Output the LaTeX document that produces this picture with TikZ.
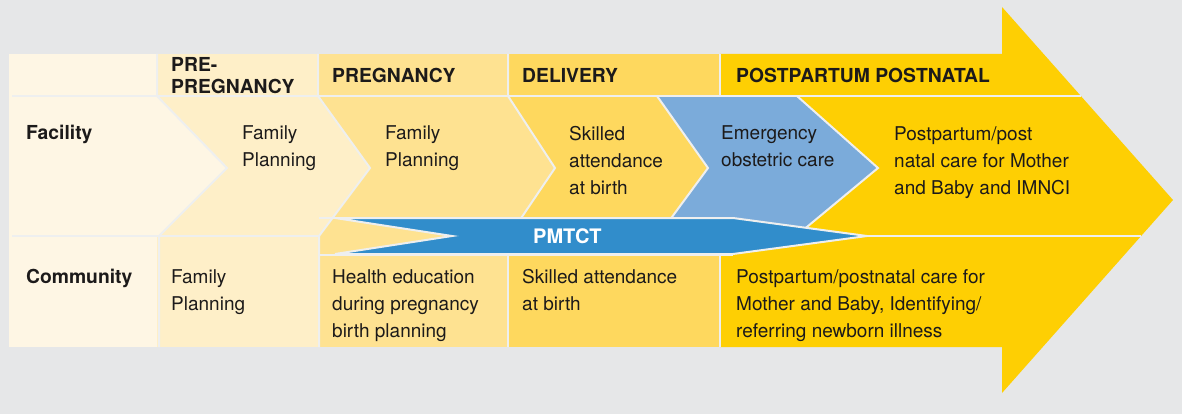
\documentclass[tikz,border=0pt]{standalone}
\usepackage{fontspec}
\setmainfont{TeX Gyre Heros}
\definecolor{bgc}{HTML}{E6E7E8}
\definecolor{sepc}{HTML}{EEEFEF}
\definecolor{czero}{HTML}{FEF6E4}
\definecolor{cone}{HTML}{FEEFC8}
\definecolor{ctwo}{HTML}{FEE291}
\definecolor{cthree}{HTML}{FED85E}
\definecolor{cgold}{HTML}{FECF03}
\definecolor{cemerg}{HTML}{7BABDA}
\definecolor{cpmtct}{HTML}{318DCB}
\definecolor{ink}{HTML}{1C1A1A}
\begin{document}
\begin{tikzpicture}[x=1pt,y=-1pt,
  sepline/.style={draw=sepc, line width=2pt, line join=miter},
  txt/.style={anchor=base west, inner sep=0pt, align=left, text=ink, font=\fontsize{19}{27}\selectfont},
  hdr/.style={txt, font=\bfseries\fontsize{19.3}{22}\selectfont}]
\useasboundingbox (0,0) rectangle (1182,414);
\fill[bgc] (0,0) rectangle (1182,414);
% big gold arrow
\fill[cgold] (720,54) -- (1002,54) -- (1002,7) -- (1173,200) -- (1002,393) -- (1002,347) -- (720,347) -- cycle;
% header cells
\fill[czero] (9,54) rectangle (157,96);
\fill[cone] (157,54) rectangle (318,96);
\fill[ctwo] (318,54) rectangle (508,96);
\fill[cthree] (508,54) rectangle (720,96);
% facility row
\fill[czero] (9,96) -- (157,96) -- (227,168) -- (159,236) -- (9,236) -- cycle;
\fill[cone] (157,96) -- (318,96) -- (370,168) -- (319,236) -- (159,236) -- (227,168) -- cycle;
\fill[ctwo] (318,96) -- (508,96) -- (555,168) -- (509,236) -- (319,236) -- (370,168) -- cycle;
\fill[cthree] (508,96) -- (657,96) -- (708,168) -- (658,236) -- (509,236) -- (555,168) -- cycle;
\fill[cemerg] (657,96) -- (797,96) -- (878,168) -- (796,236) -- (658,236) -- (708,168) -- cycle;
% strip under PMTCT
\fill[ctwo] (318,236) rectangle (720,256);
% community row
\fill[czero] (9,236) rectangle (157,347);
\fill[cone] (157,236) rectangle (318,347);
\fill[ctwo] (318,255) rectangle (508,347);
\fill[cthree] (508,255) rectangle (720,347);
% separators
\draw[sepline] (12,96) -- (1081,96);
\draw[sepline] (157,54) -- (157,96) -- (227,168) -- (159,236) -- (159,347);
\draw[sepline] (318,54) -- (318,96) -- (370,168) -- (319,236) -- (319,347);
\draw[sepline] (508,54) -- (508,96) -- (555,168) -- (509,236);
\draw[sepline] (508,255) -- (508,347);
\draw[sepline] (720,54) -- (720,96);
\draw[sepline] (720,255) -- (720,347);
\draw[sepline] (657,96) -- (708,168) -- (658,236);
\draw[sepline] (797,96) -- (878,168) -- (796,236);
\draw[sepline] (12,236) -- (319,236);
\draw[sepline] (319,218) -- (335,218);
\draw[sepline] (319,255) -- (733,255);
\draw[sepline] (867,236) -- (1141,236);
% PMTCT arrow
\filldraw[fill=cpmtct, sepline] (335,218) -- (733,218) -- (867,236) -- (733,254) -- (335,254) -- (452,236) -- cycle;
% header text
\node[hdr] (hpre) at (171,94) {PRE-\\PREGNANCY};
\node[hdr] (hpreg) at (332,83) {PREGNANCY};
\node[hdr] (hdel) at (522,83) {DELIVERY};
\node[hdr] (hpost) at (736,83) {POSTPARTUM POSTNATAL};
% row labels
\node[hdr] (lfac) at (26,140) {Facility};
\node[hdr] (lcom) at (26,283) {Community};
% facility texts
\node[txt] (fone) at (242,167) {Family\\Planning};
\node[txt] (ftwo) at (385,167) {Family\\Planning};
\node[txt] (fthree) at (569,194) {Skilled\\attendance\\at birth};
\node[txt] (femerg) at (721,167) {Emergency\\obstetric care};
\node[txt] (fpost) at (894,194) {Postpartum/post\\natal care for Mother\\and Baby and IMNCI};
% PMTCT label
\node[hdr, text=white, font=\bfseries\fontsize{20}{22}\selectfont] (pm) at (533,243) {PMTCT};
% community texts
\node[txt] (cone) at (171,310) {Family\\Planning};
\node[txt] (ctwo) at (332,337) {Health education\\during pregnancy\\birth planning};
\node[txt] (cthree) at (522,310) {Skilled attendance\\at birth};
\node[txt] (cpost) at (736,337) {Postpartum/postnatal care for\\Mother and Baby, Identifying/\\referring newborn illness};
\end{tikzpicture}
\end{document}
